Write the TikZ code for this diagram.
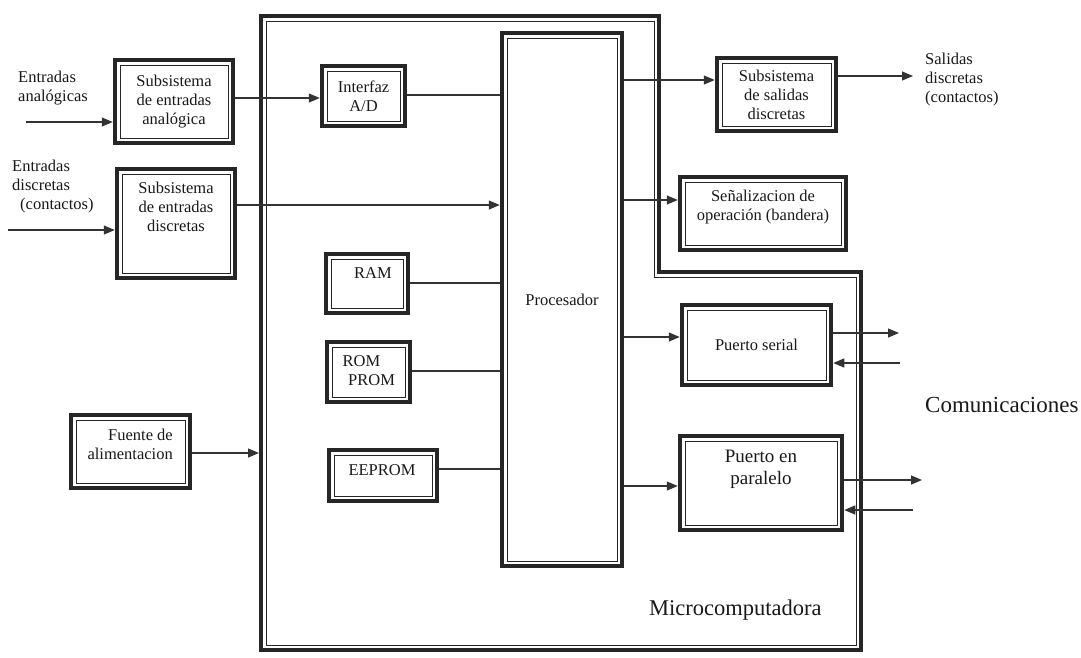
\documentclass[tikz,border=0pt]{standalone}
\usepackage{fontspec}
\setmainfont{Liberation Serif}
\usetikzlibrary{arrows.meta}
\begin{document}
\begin{tikzpicture}[x=1pt,y=-1pt,
  every node/.style={font=\fontsize{16.5}{19}\selectfont, text=black!90, inner sep=0pt, align=center},
  dbox/.style={draw=black!85, line width=4.5pt, align=center,
    path picture={\draw[black!85,line width=1pt] ([shift={(5pt,5pt)}]path picture bounding box.south west) rectangle ([shift={(-5pt,-5pt)}]path picture bounding box.north east);}},
  conn/.style={draw=black!80, line width=1.2pt},
  arr/.style={conn, -{Triangle[length=11pt,width=9pt]}},
  lbl/.style={align=left, anchor=west}
]
\useasboundingbox[fill=white] (0,0) rectangle (1081,657);

% main outline (Microcomputadora)
\draw[black!85, line width=4.5pt, line join=miter]
  (261,16) -- (659,16) -- (659,272) -- (861,272) -- (861,650) -- (261,650) -- cycle;
\draw[black!85, line width=1pt]
  (266,21) -- (654,21) -- (654,277) -- (856,277) -- (856,645) -- (266,645) -- cycle;

% boxes
\node[dbox, minimum width=118pt, minimum height=83pt] (ana) at (174,101.5) {Subsistema\\de entradas\\analógica};
\node[dbox, minimum width=118pt, minimum height=109pt] (dis) at (176,223.5) {};
\node (disT) at (176,207) {Subsistema\\de entradas\\discretas};
\node[dbox, minimum width=83pt, minimum height=60pt] (ad) at (363.5,96) {Interfaz\\A/D};
\node[dbox, minimum width=120pt, minimum height=533pt] (proc) at (562,299.5) {Procesador};
\node[dbox, minimum width=82pt, minimum height=59pt] (ram) at (367,283.5) {};
\node (ramT) at (373,273) {RAM};
\node[dbox, minimum width=83pt, minimum height=60pt] (rom) at (368.5,372) {};
\node[align=left, anchor=west] (romT) at (342.5,370.5) {ROM\\\hspace*{5.5pt}PROM};
\node[dbox, minimum width=108pt, minimum height=51pt] (eep) at (383,475.5) {};
\node (eepT) at (382,470) {EEPROM};
\node[dbox, minimum width=119pt, minimum height=73pt] (fue) at (130.5,451.5) {};
\node[align=right, anchor=east] (fueT) at (173,444.5) {Fuente de\\alimentacion};
\node[dbox, minimum width=119pt, minimum height=73pt] (sal) at (776.5,94.5) {Subsistema\\de salidas\\discretas};
\node[dbox, minimum width=166pt, minimum height=73pt] (sen) at (763,213.5) {};
\node (senT) at (763,207) {Señalizacion de\\operación (bandera)};
\node[dbox, minimum width=149pt, minimum height=80pt] (ser) at (756.5,345) {Puerto serial};
\node[dbox, minimum width=162pt, minimum height=94pt] (par) at (761,483) {};
\node[font=\fontsize{19}{22}\selectfont] (parT) at (761,469) {Puerto en\\paralelo};

% free labels
\node[lbl] (entA) at (18,88) {Entradas\\analógicas};
\node[lbl] (entD) at (12,187) {Entradas\\discretas\\\hspace*{8pt}(contactos)};
\node[lbl] (salT) at (925,80) {Salidas\\discretas\\(contactos)};
\node[lbl, font=\fontsize{23}{27}\selectfont] (com) at (925,405) {Comunicaciones};
\node[lbl, font=\fontsize{22.5}{27}\selectfont] (mc) at (649,610) {Microcomputadora};

% helper coordinates
\coordinate (inA) at (26,122);
\coordinate (inD) at (8,230);
\coordinate (y98) at (0,98);
\coordinate (y95) at (0,95);
\coordinate (y205) at (0,205);
\coordinate (y283) at (0,283);
\coordinate (y371) at (0,371);
\coordinate (y469) at (0,469);
\coordinate (y80) at (0,80);
\coordinate (y200) at (0,200);
\coordinate (y337) at (0,337);
\coordinate (y486) at (0,486);
\coordinate (mainL) at (259,453);
\coordinate (outS) at (913,76);
\coordinate (serO) at (899,333);
\coordinate (serI) at (900,363);
\coordinate (parO) at (922,480);
\coordinate (parI) at (913,510);

% connectors
\draw[arr] (inA) -- (inA -| ana.west);
\draw[arr] (inD) -- (inD -| dis.west);
\draw[arr] (ana.east |- y98) -- (ad.west |- y98);
\draw[conn] (ad.east |- y95) -- (proc.west |- y95);
\draw[arr] (dis.east |- y205) -- (proc.west |- y205);
\draw[conn] (ram.east |- y283) -- (proc.west |- y283);
\draw[conn] (rom.east |- y371) -- (proc.west |- y371);
\draw[conn] (eep.east |- y469) -- (proc.west |- y469);
\draw[arr] (fue.east |- mainL) -- (mainL);
\draw[arr] (proc.east |- y80) -- (sal.west |- y80);
\draw[arr] (sal.east |- outS) -- (outS);
\draw[arr] (proc.east |- y200) -- (sen.west |- y200);
\draw[arr] (proc.east |- y337) -- (ser.west |- y337);
\draw[arr] (ser.east |- serO) -- (serO);
\draw[arr] (serI) -- (serI -| ser.east);
\draw[arr] (proc.east |- y486) -- (par.west |- y486);
\draw[arr] (par.east |- parO) -- (parO);
\draw[arr] (parI) -- (parI -| par.east);
\end{tikzpicture}
\end{document}
